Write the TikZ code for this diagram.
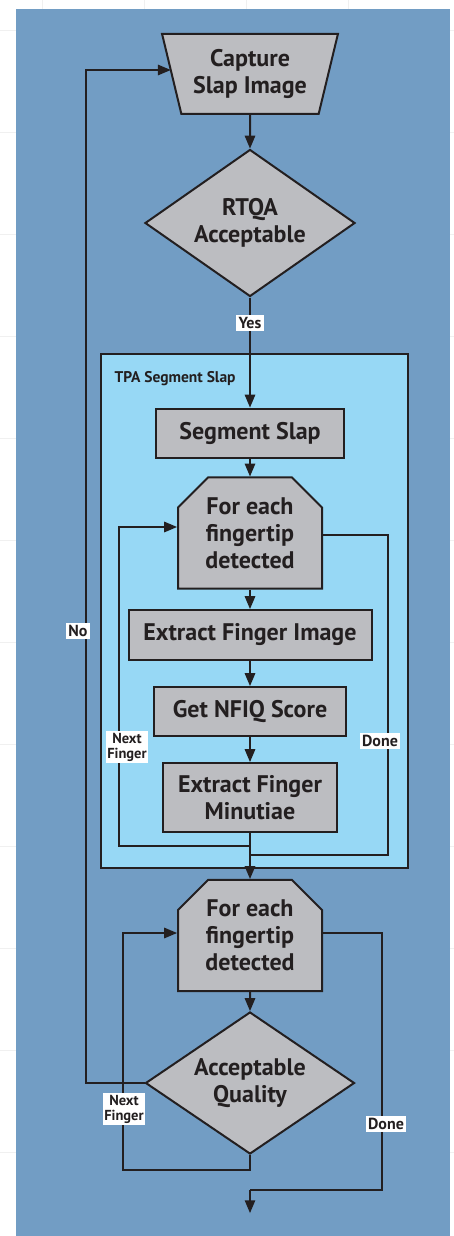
\documentclass[tikz,border=0pt]{standalone}
\usepackage{fontspec}
\setmainfont{PT Sans}
\usetikzlibrary{arrows,shapes.geometric,shapes.misc}
\definecolor{panel}{RGB}{114,157,196}
\definecolor{inner}{RGB}{151,216,245}
\definecolor{boxgray}{RGB}{188,189,193}
\definecolor{ink}{RGB}{35,31,32}

\begin{document}
\begin{tikzpicture}[x=1pt,y=-1pt,>=triangle 45]
		\tikzstyle{every node} = [font=\bfseries\fontsize{24}{27}\selectfont,text=ink,align=center];
		\tikzstyle{proc} = [rectangle,fill=boxgray,draw=ink,line width=2pt,inner sep=0pt];
		\tikzstyle{loopbox} = [proc,chamfered rectangle,chamfered rectangle corners={north west,north east},chamfered rectangle xsep=10pt,chamfered rectangle ysep=20pt,minimum width=144pt];
		\tikzstyle{decide} = [proc,diamond,aspect=1.43];
		\tikzstyle{tag} = [fill=white,inner sep=2.5pt,font=\bfseries\fontsize{16}{14}\selectfont];
		\tikzstyle{twotag} = [tag,inner sep=1.5pt,font=\bfseries\fontsize{14.5}{15}\selectfont];
		\tikzstyle{flow} = [draw=ink,line width=2pt];
		\useasboundingbox (0,0) rectangle (454,1236);
		% faint page grid and blue panel
		\foreach \x in {42,144,246,348} \draw[gray!12] (\x,0) -- (\x,1236);
		\foreach \y in {30,132,...,1236} \draw[gray!12] (0,\y) -- (454,\y);
		\fill[panel] (16,9) rectangle (450,1236);
		\node[draw=ink,line width=2pt,fill=inner,minimum width=307pt,minimum height=514pt,inner sep=0pt] (tpa) at (254.5,611) {};
		\node[anchor=west,font=\bfseries\fontsize{15.5}{18}\selectfont] (tpatitle) at (111,379) {TPA Segment Slap};
		% steps
		\node[proc,trapezium,shape border rotate=180,trapezium left angle=72,trapezium right angle=72,trapezium stretches=true,minimum width=176pt,minimum height=80pt] (capture) at (250,74) {Capture\\Slap Image};
		\node[decide,minimum width=210pt,minimum height=147pt] (rtqa) at (250,223) {RTQA\\Acceptable};
		\node[proc,minimum width=188pt,minimum height=49pt] (segslap) at (250,433) {Segment Slap};
		\node[loopbox,minimum height=100pt] (each1) at (250,533) {For each\\fingertip\\detected};
		\node[proc,minimum width=243pt,minimum height=50pt] (extimg) at (250,635) {Extract Finger Image};
		\node[proc,minimum width=192pt,minimum height=49pt] (nfiq) at (250,711.5) {Get NFIQ Score};
		\node[proc,minimum width=174pt,minimum height=69pt] (minut) at (250,797.5) {Extract Finger\\Minutiae};
		\node[loopbox,minimum height=97pt] (each2) at (250,935.5) {For each\\fingertip\\detected};
		\node[decide,minimum width=209pt,minimum height=142pt] (quality) at (250,1083) {Acceptable\\Quality};
		% corner points of the loops
		\coordinate (j1) at (250,846);
		\coordinate (nx1) at (119,846);
		\coordinate (dn1) at (388,855);
		\coordinate (j2) at (250,855);
		\coordinate (nx2) at (123,1170);
		\coordinate (j3) at (250,1170);
		\coordinate (dn2) at (382,1190);
		\coordinate (j4) at (250,1190);
		\coordinate (out) at (250,1213);
		\coordinate (nox) at (86,1083);
		% connectors
		\draw[flow,->] (capture) -- (rtqa);
		\draw[flow,->] (rtqa) -- (segslap);
		\draw[flow,->] (segslap) -- (each1);
		\draw[flow,->] (each1) -- (extimg);
		\draw[flow,->] (extimg) -- (nfiq);
		\draw[flow,->] (nfiq) -- (minut);
		\draw[flow,->] (minut) -- (each2);
		\draw[flow,->] (j1) -- (nx1) |- ([yshift=6pt]each1.west);
		\draw[flow] ([yshift=-2pt]each1.east) -| (dn1) -- (j2);
		\draw[flow,->] (each2) -- (quality);
		\draw[flow,->] (quality.south) -- (j3) -- (nx2) |- ([yshift=2.5pt]each2.west);
		\draw[flow] ([yshift=2.5pt]each2.east) -| (dn2) -- (j4);
		\draw[flow,->] (j4) -- (out);
		\draw[flow,->] (quality.west) -- (nox) |- ([yshift=4pt]capture.west);
		% branch labels
		\node[tag] (yes) at (250,323) {Yes};
		\node[tag] (no) at (78,631) {No};
		\node[twotag] (next1) at (127,747) {Next\\Finger};
		\node[tag] (done1) at (380,741) {Done};
		\node[twotag] (next2) at (124,1109) {Next\\Finger};
		\node[tag] (done2) at (386,1124) {Done};
	\end{tikzpicture}
\end{document}
